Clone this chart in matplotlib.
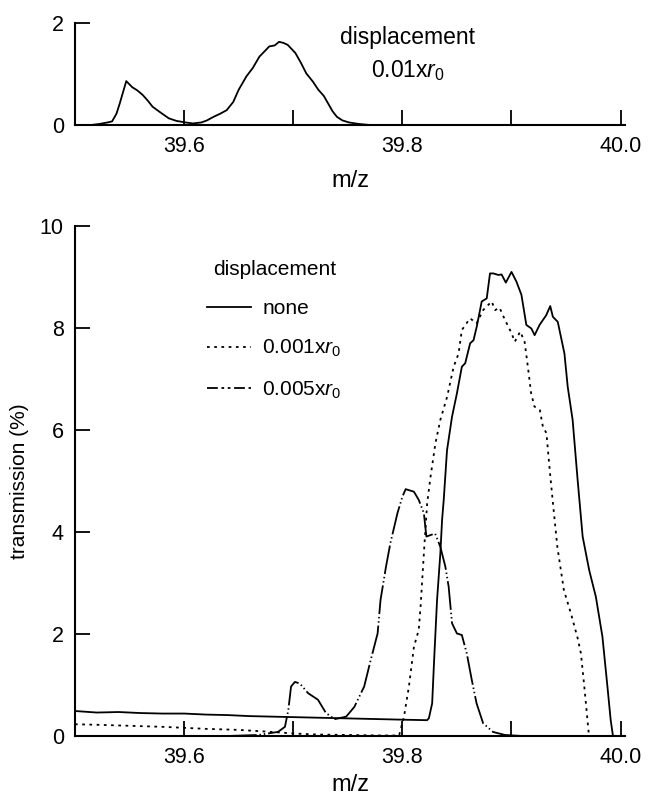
import matplotlib.pyplot as plt
from matplotlib.lines import Line2D

plt.rcParams['font.family'] = ['Liberation Sans', 'DejaVu Sans']
plt.rcParams['mathtext.fontset'] = 'custom'
plt.rcParams['mathtext.rm'] = 'Liberation Sans'
plt.rcParams['mathtext.it'] = 'Liberation Sans:italic'

# top panel: displacement 0.01 x r0
top_mz = [39.515, 39.5225, 39.53, 39.534, 39.538, 39.541, 39.547, 39.5525, 39.557,
          39.562, 39.567, 39.571, 39.578, 39.586, 39.593, 39.601, 39.608, 39.616,
          39.621, 39.627, 39.633, 39.639, 39.645, 39.650, 39.657, 39.663, 39.669,
          39.674, 39.678, 39.683, 39.687, 39.691, 39.695, 39.702, 39.707, 39.712,
          39.718, 39.723, 39.728, 39.732, 39.736, 39.740, 39.745, 39.751, 39.760, 39.770]
top_tr = [0.0, 0.02, 0.05, 0.07, 0.22, 0.42, 0.86, 0.74, 0.68,
          0.59, 0.47, 0.36, 0.25, 0.13, 0.08, 0.05, 0.03, 0.05,
          0.09, 0.16, 0.22, 0.29, 0.45, 0.69, 0.95, 1.12, 1.34,
          1.45, 1.54, 1.56, 1.63, 1.61, 1.57, 1.41, 1.22, 1.01,
          0.85, 0.69, 0.57, 0.42, 0.27, 0.16, 0.09, 0.05, 0.02, 0.0]

# bottom panel: no displacement
none_mz = [39.5, 39.52, 39.54, 39.56, 39.58, 39.6, 39.62, 39.64, 39.66, 39.68,
           39.7, 39.72, 39.74, 39.76, 39.78, 39.8, 39.8227, 39.8243, 39.8273,
           39.8291, 39.8318, 39.8348, 39.8364, 39.8379, 39.8409, 39.8455, 39.85,
           39.8545, 39.8576, 39.8621, 39.8652, 39.8682, 39.8727, 39.8773, 39.8803,
           39.8834, 39.8879, 39.8909, 39.8948, 39.9, 39.9045, 39.9091, 39.9136,
           39.9182, 39.9212, 39.9257, 39.9318, 39.9355, 39.9379, 39.9424, 39.9485,
           39.9515, 39.956, 39.9606, 39.9652, 39.9712, 39.9773, 39.9833, 39.9879,
           39.9909, 39.993]
none_tr = [0.49, 0.46, 0.47, 0.45, 0.44, 0.44, 0.42, 0.41, 0.39, 0.38,
           0.37, 0.36, 0.35, 0.34, 0.33, 0.32, 0.31, 0.35, 0.64,
           1.49, 2.67, 3.58, 4.24, 4.63, 5.6, 6.26, 6.72,
           7.24, 7.31, 7.70, 7.76, 8.03, 8.52, 8.58, 9.07,
           9.07, 9.04, 9.05, 8.89, 9.10, 8.91, 8.65, 8.06,
           7.99, 7.86, 8.06, 8.25, 8.43, 8.22, 8.12, 7.50,
           6.85, 6.2, 5.02, 3.91, 3.25, 2.73, 1.95, 0.97,
           0.31, 0.0]

# displacement 0.001 x r0
d001_mz = [39.5, 39.52, 39.55, 39.58, 39.6, 39.62, 39.65, 39.68, 39.7, 39.72,
           39.75, 39.78, 39.797, 39.8015, 39.806, 39.8106, 39.815, 39.8167,
           39.8197, 39.8227, 39.8258, 39.8303, 39.8348, 39.841, 39.847, 39.8515,
           39.8545, 39.862, 39.868, 39.874, 39.8818, 39.885, 39.889, 39.894,
           39.9, 39.903, 39.908, 39.912, 39.915, 39.918, 39.921, 39.926,
           39.9288, 39.932, 39.935, 39.938, 39.942, 39.948, 39.9545, 39.9606,
           39.9636, 39.9667, 39.971]
d001_tr = [0.23, 0.22, 0.2, 0.18, 0.16, 0.14, 0.12, 0.08, 0.05, 0.03,
           0.02, 0.01, 0.01, 0.38, 0.97, 1.75, 2.08, 2.54,
           3.58, 4.56, 5.08, 5.74, 6.2, 6.65, 7.24, 7.50,
           7.96, 8.19, 8.09, 8.35, 8.52, 8.35, 8.40, 8.16,
           7.90, 7.73, 7.93, 7.73, 7.24, 6.72, 6.46, 6.39,
           6.06, 5.94, 5.22, 4.56, 3.71, 2.86, 2.40, 1.92,
           1.62, 0.97, 0.0]

# displacement 0.005 x r0
d005_mz = [39.64, 39.668, 39.686, 39.6924, 39.6955, 39.698, 39.7015, 39.706,
           39.7136, 39.7227, 39.730, 39.738, 39.7485, 39.756, 39.765, 39.771,
           39.7773, 39.780, 39.785, 39.789, 39.7955, 39.80, 39.803, 39.8106,
           39.815, 39.8197, 39.822, 39.8258, 39.830, 39.8348, 39.8394, 39.8424,
           39.8455, 39.85, 39.8545, 39.859, 39.8636, 39.868, 39.874, 39.883,
           39.894, 39.91]
d005_tr = [0.0, 0.02, 0.08, 0.18, 0.51, 0.97, 1.06, 1.03,
           0.84, 0.71, 0.45, 0.33, 0.38, 0.57, 0.97, 1.49,
           2.01, 2.67, 3.32, 3.78, 4.37, 4.69, 4.84, 4.79,
           4.63, 4.37, 3.91, 3.94, 3.97, 3.71, 3.32, 2.93,
           2.21, 2.01, 1.98, 1.62, 1.10, 0.64, 0.25, 0.08,
           0.02, 0.0]

legend_labels = ['none', '0.001x$r_0$', '0.005x$r_0$']
x_ticks = [39.6, 39.7, 39.8, 39.9, 40.0]
x_ticklabels = ['39.6', '', '39.8', '', '40.0']

FS = 15
TICK_FS = 15.5
LW = 1.3
DOT = (1.5, 2.5)
DASHDOT = (16, 1.6, 0.8, 1.6, 0.8, 1.6)


def style_axes(ax):
    for side in ['top', 'right']:
        ax.spines[side].set_visible(False)
    for side in ['left', 'bottom']:
        ax.spines[side].set_linewidth(1.5)
    ax.tick_params(direction='in', length=11, width=1.3, labelsize=TICK_FS, pad=8)
    ax.set_xlim(39.5, 40.004)
    ax.set_xticks(x_ticks)
    ax.set_xticklabels(x_ticklabels)


fig = plt.figure(figsize=(6.48, 7.98), dpi=100)

ax1 = fig.add_axes([0.1157, 0.8434, 0.8488, 0.1278])
ax1.plot(top_mz, top_tr, color='black', lw=LW)
style_axes(ax1)
ax1.set_ylim(0, 2)
ax1.set_yticks([0, 2])
ax1.set_xlabel('m/z', fontsize=17, labelpad=9)
ax1.text(39.805, 1.71, 'displacement', ha='center', va='center', fontsize=16.5)
ax1.text(39.805, 1.06, '0.01x$r_0$', ha='center', va='center', fontsize=16.5)

ax2 = fig.add_axes([0.1157, 0.0777, 0.8488, 0.6391])
ax2.plot(none_mz, none_tr, color='black', lw=LW)
ax2.plot(d001_mz, d001_tr, color='black', lw=LW, dashes=DOT)
ax2.plot(d005_mz, d005_tr, color='black', lw=LW, dashes=DASHDOT)
style_axes(ax2)
ax2.set_ylim(0, 10)
ax2.set_yticks([0, 2, 4, 6, 8, 10])
ax2.set_xlabel('m/z', fontsize=17, labelpad=4)
ax2.set_ylabel('transmission (%)', fontsize=FS, labelpad=8)

handles = [Line2D([], [], color='black', lw=LW),
           Line2D([], [], color='black', lw=LW, dashes=DOT),
           Line2D([], [], color='black', lw=LW, dashes=(6, 2, 1.5, 2, 1.5, 2))]
ax2.legend(handles, legend_labels, title='displacement', loc='upper left',
           bbox_to_anchor=(0.24, 0.934), frameon=False, fontsize=FS,
           title_fontsize=FS, handlelength=2.1, handletextpad=0.55,
           labelspacing=0.97, borderpad=0, borderaxespad=0)

fig.savefig('out.png', dpi=100)
